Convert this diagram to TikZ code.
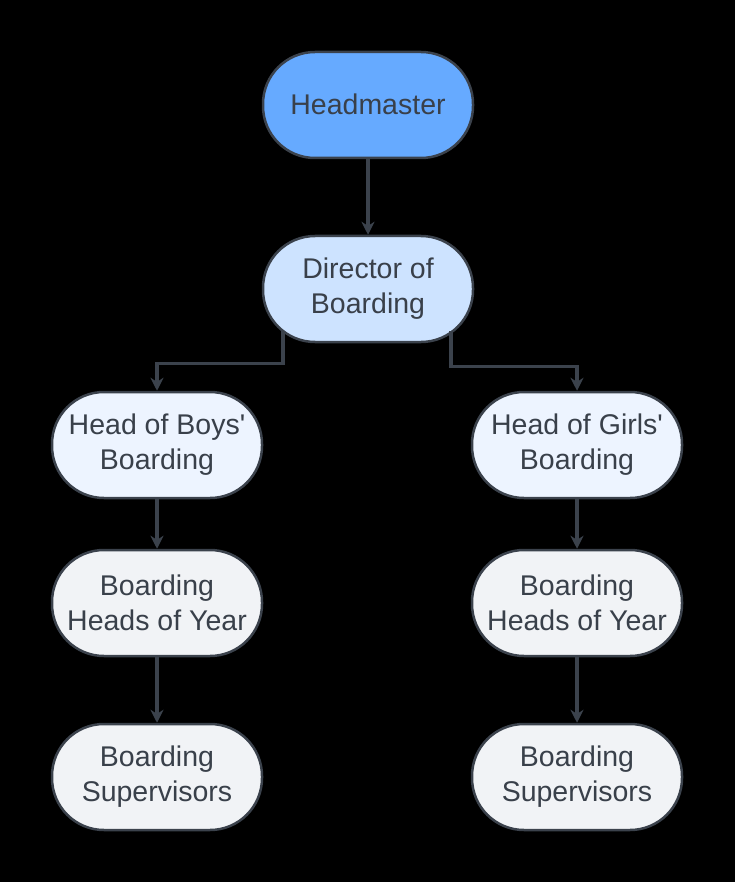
\documentclass[tikz,border=0pt]{standalone}
\usepackage{fontspec}
\setmainfont{Liberation Sans}
\usepackage{xcolor}
\usetikzlibrary{arrows.meta}

\definecolor{edgegrey}{HTML}{3B424C}
\definecolor{textgrey}{HTML}{39404A}
\definecolor{topblue}{HTML}{66AAFF}
\definecolor{midblue}{HTML}{CDE3FF}
\definecolor{paleblue}{HTML}{EDF4FF}
\definecolor{palegrey}{HTML}{F1F3F6}

\begin{document}
\begin{tikzpicture}[x=1pt, y=-1pt, >=Stealth,
    role/.style={draw=edgegrey, line width=2.5pt, rounded corners=52pt,
        minimum width=210pt, minimum height=106pt, inner sep=0pt,
        align=center, text=textgrey,
        font=\fontsize{28.5}{35}\selectfont},
    link/.style={->, draw=edgegrey, line width=3.5pt,
        arrows={-Stealth[length=13pt, width=13pt]}}]
    % Background
    \fill [black] (0,0) rectangle (735,882);

    % Top of the tree
    \node [role, fill=topblue] (head) at (368,105) {\raisebox{2pt}{Headmaster}};
    \node [role, fill=midblue] (dir) at (368,289) {Director of\\Boarding};

    % Boys' side
    \node [role, fill=paleblue] (boys) at (157,445) {Head of Boys\textquotesingle\\Boarding};
    \node [role, fill=palegrey] (boysyear) at (157,603) {Boarding\\Heads of Year};
    \node [role, fill=palegrey] (boyssup) at (157,777) {Boarding\\Supervisors};

    % Girls' side
    \node [role, fill=paleblue] (girls) at (577,445) {Head of Girls\textquotesingle\\Boarding};
    \node [role, fill=palegrey] (girlsyear) at (577,603) {Boarding\\Heads of Year};
    \node [role, fill=palegrey] (girlssup) at (577,777) {Boarding\\Supervisors};

    % Links
    \draw [link] (head) -- (dir);
    \draw [link] ([xshift=-85pt, yshift=12pt]dir.south) -- ++(0,32) -| (boys);
    \draw [link] ([xshift=83pt, yshift=12pt]dir.south) -- ++(0,35) -| (girls);
    \draw [link] (boys) -- (boysyear);
    \draw [link] (boysyear) -- (boyssup);
    \draw [link] (girls) -- (girlsyear);
    \draw [link] (girlsyear) -- (girlssup);
\end{tikzpicture}
\end{document}
